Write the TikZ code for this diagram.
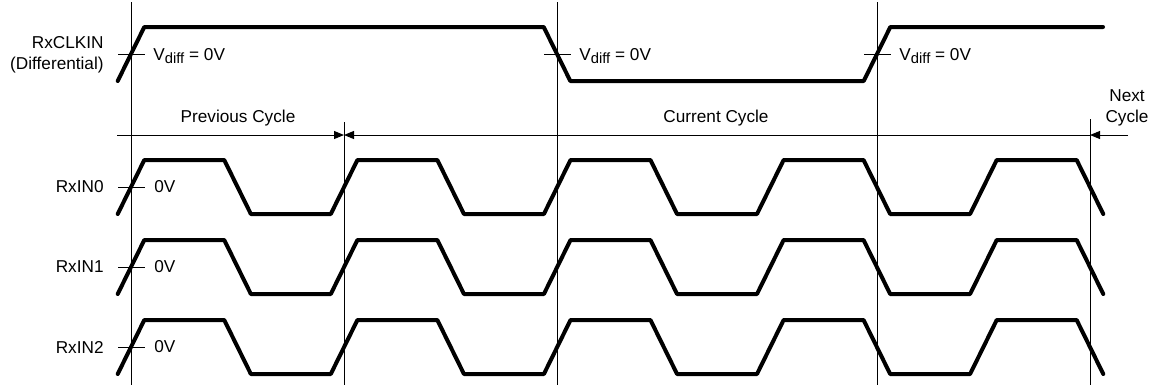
\documentclass[tikz,border=0pt]{standalone}
\usepackage{fontspec}
\setmainfont{Liberation Sans}
\usetikzlibrary{arrows.meta, positioning}
\tikzstyle{signal} = [line width=2pt, line join=round, line cap=round]
\tikzstyle{guide} = [line width=0.5pt]
\tikzstyle{arrow} = [guide, -{Triangle[length=5pt,width=4pt]}]
\tikzstyle{signame} = [inner sep=0pt, align=right, anchor=east]
\tikzstyle{level} = [inner sep=0pt, anchor=west]
\newcommand{\vdiff}{V\raisebox{-0.35ex}{\fontsize{7.4}{8}\selectfont diff} = 0V}

\begin{document}
\begin{tikzpicture}[x=0.5pt, y=-0.5pt, font=\fontsize{8.6}{10.5}\selectfont]
  \useasboundingbox (0,0) rectangle (1159,387);

  % boundaries of the cycles
  \coordinate (t0) at (131,2);    \coordinate (b0) at (131,385);
  \coordinate (t1) at (344,122);  \coordinate (b1) at (344,385);
  \coordinate (t2) at (557,2);    \coordinate (b2) at (557,385);
  \coordinate (t3) at (877,2);    \coordinate (b3) at (877,385);
  \coordinate (t4) at (1090,119); \coordinate (b4) at (1090,385);
  \foreach \i in {0,...,4}
    \draw [guide] (t\i) -- (b\i);

  % clock
  \node (clk) [signame] at (104,55) {RxCLKIN\\(Differential)};
  \draw [signal] (117.7,81) -- (144.3,27) -- (543.7,27) -- (570.3,81)
    -- (863.7,81) -- (890.3,27) -- (1103,27);
  \foreach \x/\n in {131/a, 557/b, 877/c} {
    \draw [guide] (\x-13,54) -- (\x+14,54);
    \node (vd\n) [level] at (\x+22,56) {\vdiff};
  }

  % cycles
  \coordinate (prev) at (117,135);
  \coordinate (p1) at (344,135);
  \coordinate (p2) at (1090,135);
  \coordinate (next) at (1128,135);
  \draw [arrow] (prev) -- (p1);
  \draw [arrow, {Triangle[length=5pt,width=4pt]}-] (p1) -- (p2);
  \draw [arrow] (next) -- (p2);
  \node (prevcyc) [inner sep=0pt] at (238,118) {Previous Cycle};
  \node (curcyc) [inner sep=0pt] at (716,118) {Current Cycle};
  \node (nextcyc) [inner sep=0pt, align=center] at (1127,108) {Next\\Cycle};

  % data lines
  \foreach \r/\y in {0/187, 1/267, 2/347} {
    \node (in\r) [signame] at (104,\y) {RxIN\r};
    \draw [guide] (118,\y) -- (145,\y);
    \node (zero\r) [level] at (154,\y) {0V};
    \draw [signal] (117.7,\y+27) \foreach \k in {0,...,9} {
      -- ({131+\k*106.55-13.3},{\y+(1-2*mod(\k,2))*27})
      -- ({131+\k*106.55+13.3},{\y-(1-2*mod(\k,2))*27}) };
  }
\end{tikzpicture}
\end{document}
